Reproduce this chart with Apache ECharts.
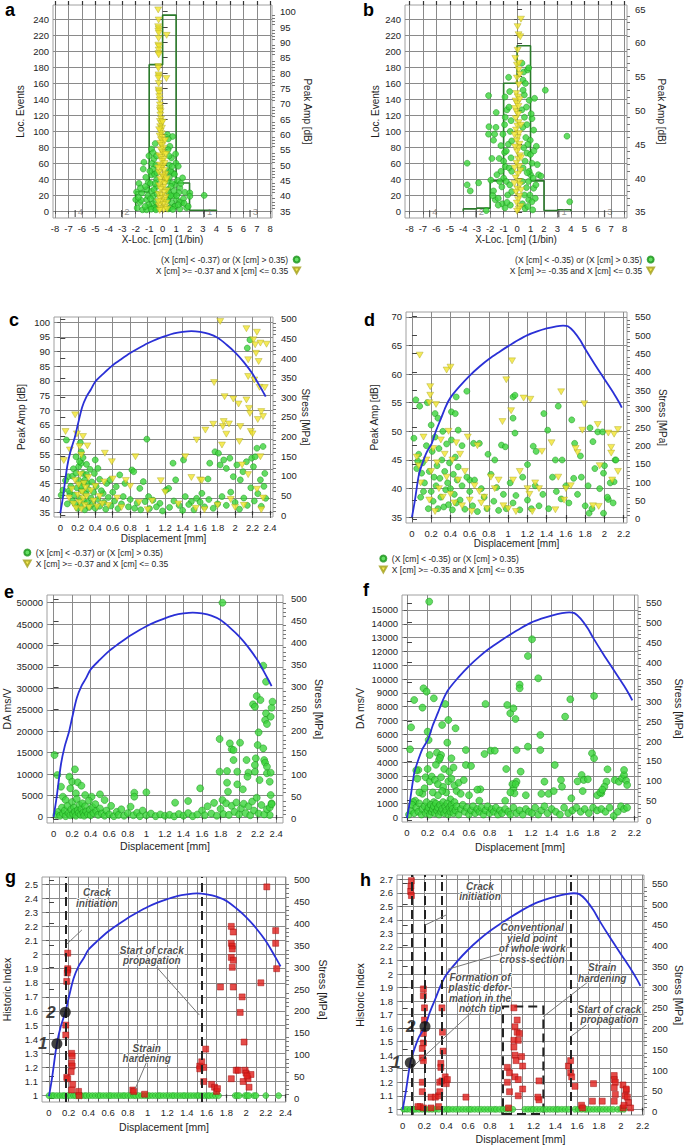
<!DOCTYPE html>
<html><head><meta charset="utf-8">
<script src="https://cdn.jsdelivr.net/npm/echarts@6/dist/echarts.min.js"></script>
<style>html,body{margin:0;padding:0;background:#fff}#c{width:685px;height:1147px}</style>
</head><body><div id="c"></div><script>
// ---------------- DATA ----------------
const G37 = '(X [cm] < -0.37) or (X [cm] > 0.35)';
const Y37 = 'X [cm] >= -0.37 and X [cm] <= 0.35';
const G35 = '(X [cm] < -0.35) or (X [cm] > 0.35)';
const Y35 = 'X [cm] >= -0.35 and X [cm] <= 0.35';

// tick labels
const locXTicks = [-8,-7,-6,-5,-4,-3,-2,-1,0,1,2,3,4,5,6,7,8];
const locEventTicks = [0,20,40,60,80,100,120,140,160,180,200,220,240];
const aAmpTicks = [35,40,45,50,55,60,65,70,75,80,85,90,95,100];
const bAmpTicks = [35,40,45,50,55,60,65];
const disp24Ticks = [0,0.2,0.4,0.6,0.8,1,1.2,1.4,1.6,1.8,2,2.2,2.4];
const disp22Ticks = [0,0.2,0.4,0.6,0.8,1,1.2,1.4,1.6,1.8,2,2.2];
const disp24Grid = [0,0.1,0.2,0.3,0.4,0.5,0.6,0.7,0.8,0.9,1,1.1,1.2,1.3,1.4,1.5,1.6,1.7,1.8,1.9,2,2.1,2.2,2.3,2.4];
const disp22Grid = [0,0.1,0.2,0.3,0.4,0.5,0.6,0.7,0.8,0.9,1,1.1,1.2,1.3,1.4,1.5,1.6,1.7,1.8,1.9,2,2.1,2.2];
const cAmpTicks = [35,40,45,50,55,60,65,70,75,80,85,90,95,100];
const dAmpTicks = [35,40,45,50,55,60,65,70];
const stress500Ticks = [0,50,100,150,200,250,300,350,400,450,500];
const stress550Ticks = [0,50,100,150,200,250,300,350,400,450,500,550];
const eDaTicks = [0,5000,10000,15000,20000,25000,30000,35000,40000,45000,50000];
const fDaTicks = [0,1000,2000,3000,4000,5000,6000,7000,8000,9000,10000,11000,12000,13000,14000,15000];
const gHiTicks = [1,1.1,1.2,1.3,1.4,1.5,1.6,1.7,1.8,1.9,2,2.1,2.2,2.3,2.4,2.5];
const hHiTicks = [1,1.1,1.2,1.3,1.4,1.5,1.6,1.7,1.8,1.9,2,2.1,2.2,2.3,2.4,2.5,2.6,2.7];

// histograms (1 cm bins)
const aBinEdges = [-2,-1,0,1,2,3,4];
const aBinCounts = [24,183,245,35,1,1];
const bBinEdges = [-4,-3,-2,-1,0,1,2,3,4];
const bBinCounts = [3,4,38,160,207,38,1,2];
const sensorX = [-6.5,-3.05,3.1,6.5];
const sensorLabels = ['4','2','1','3'];

// stress curves [displacement mm, stress MPa]
const stress1 = [[0,5],[0.03,45],[0.08,125],[0.12,165],[0.165,197],[0.2,230],[0.25,275],[0.3,302],[0.35,320],[0.4,340],[0.5,362],[0.6,382],[0.7,398],[0.8,413],[0.9,426],[1.0,438],[1.1,448],[1.2,456],[1.3,463],[1.4,467],[1.5,469],[1.6,467],[1.7,462],[1.8,452],[1.9,435],[2.0,415],[2.1,390],[2.2,360],[2.3,322],[2.35,302]];
const stress2 = [[0,5],[0.03,50],[0.07,118],[0.1,145],[0.15,180],[0.205,205],[0.25,240],[0.3,272],[0.35,305],[0.4,330],[0.5,362],[0.6,390],[0.7,414],[0.8,435],[0.9,453],[1.0,470],[1.1,486],[1.2,500],[1.3,510],[1.4,518],[1.5,524],[1.57,526],[1.62,524],[1.68,510],[1.75,485],[1.8,462],[1.9,420],[2.0,380],[2.1,340],[2.15,318],[2.18,303]];

// a: X-loc [cm], peak amp [dB]
const aGreen = [[-1.02,53],[-0.82,55.2],[-0.65,52],[-0.7,48.7],[-1.39,50.9],[-1.44,48.7],[-0.82,46.8],[-0.45,45.2],[-1.07,44.3],[-1.76,44],[-1.94,41.2],[-1.56,40.9],[-1.19,42],[-0.82,41.4],[-2.0,38.7],[-1.69,37.8],[-1.19,38.7],[-0.7,39.8],[-1.89,36],[-1.49,35.4],[-0.94,36.3],[-0.45,36],[-1.19,35.4],[-0.75,37.4],[-1.3,43],[-1.6,38.5],[-0.45,43],[-0.8,50.5],[-0.55,57],[-0.5,50],[-0.6,47],[-0.9,44],[-1.1,40],[-0.5,38],[-0.6,36],[-0.4,40.5],[-0.42,47.5],[-0.9,39],[-1.05,37],[-1.3,36.5],[-1.8,39.5],[-1.65,42.5],[-0.95,48],[-0.55,44],[-0.65,42],[-0.85,35.6],[-0.5,35.4],[-1.25,46],[-0.7,54],[-0.45,53],
 [0.36,59.9],[0.74,59.3],[0.42,58.5],[0.54,56.1],[0.96,53.6],[0.66,52.3],[0.99,50.6],[1.16,49.6],[1.48,45.8],[0.4,47.9],[0.79,47.4],[0.42,44.7],[0.91,43.6],[1.28,42.5],[1.65,41.1],[2.02,40.9],[2.02,39.8],[3.09,40.1],[0.54,39.8],[1.03,38.7],[1.41,37.6],[1.78,36],[0.42,35.7],[0.91,36.7],[1.28,35.7],[0.66,37.8],[0.4,42],[0.4,55],[0.5,50],[0.6,48],[0.45,41],[0.7,44],[0.8,40],[1.1,45],[1.2,41],[1.3,38],[0.9,36.5],[0.55,36],[0.5,46],[0.62,43],[0.85,41.5],[1.05,40],[1.15,37],[1.55,39],[0.75,35.5],[0.38,38.5],[0.48,53],[0.6,40],[1.35,44],[0.88,47],[1.6,37.5],[1.9,36.5],[0.7,49.5]];
const aYellow = [[-0.33,100.6],[-0.3,97.3],[-0.33,95.1],[-0.3,94.4],[-0.32,93.7],[-0.29,93],[-0.3,91.3],[-0.32,89.1],[-0.28,88.6],[-0.3,87.5],[-0.31,86.4],[-0.29,85.9],[-0.33,82.1],[-0.31,81.5],[-0.3,79.4],[-0.28,78.8],[-0.31,78.3],[-0.29,76.6],[-0.3,74.5],[-0.28,73.9],[-0.26,73.4],[-0.25,72.3],[-0.22,71.2],[-0.2,69.6],[-0.18,68.5],[-0.2,67.9],[-0.15,67.4],[-0.17,66.3],[0.3,92.3],[0.28,78.2],
 [-0.12,65],[-0.2,64.2],[-0.1,63.5],[-0.18,62.5],[-0.05,62],[-0.15,61],[-0.08,60.2],[-0.22,59.5],[-0.02,59],[-0.12,58.2],[0.02,57.5],[-0.18,57],[-0.06,56.3],[0.05,55.5],[-0.15,55],[-0.02,54.2],[0.08,53.6],[-0.25,53],[-0.1,52.4],[0.1,51.8],[-0.05,51.2],[0.15,50.5],[-0.2,50],[0.02,49.4],[-0.12,48.8],[0.12,48.2],[-0.28,47.6],[0.2,47],[-0.02,46.5],[0.08,46],[-0.18,45.4],[0.25,44.9],[-0.08,44.3],[0.15,43.8],[-0.25,43.2],[0.05,42.7],[-0.15,42.1],[0.3,41.6],[0.1,41],[-0.3,40.5],[-0.05,40],[0.22,39.5],[-0.2,39],[0.12,38.5],[-0.1,38],[0.28,37.6],[0.02,37.1],[-0.28,36.7],[0.18,36.2],[-0.12,35.8],[0.08,35.4],[-0.22,35.2],[0.32,35.6],[-0.32,38],[0.3,45.5],[-0.33,49],[0.25,53.5],[0.18,58],[-0.26,61.5],[0.0,64]];

// b
const bGreen = [[-3.71,42.2],[-3.71,39],[-3.48,38.1],[-2.86,39.3],[-2.12,52.2],[-2.09,47.6],[-2.12,46.5],[-1.57,47.5],[-1.67,46.5],[-1.75,45.6],[-1.87,42.9],[-1.55,49.7],[-1.33,42.9],[-1.95,39.7],[-1.75,38.1],[-1.62,36.8],[-2.29,35.2],[-0.63,54.9],[-0.75,50.1],[-0.88,49],[-0.93,47.9],[-0.51,46.9],[-0.93,43.8],[-0.88,41.7],[-1.13,38.7],[0.36,57],[0.49,55.7],[0.44,54.5],[0.78,56],[0.86,56.3],[0.54,52.3],[0.36,50.1],[1.3,51.8],[1.11,48.8],[0.73,47.9],[1.43,44.7],[1.23,47.1],[0.98,45.6],[0.73,43.7],[1.11,42.2],[1.6,40.5],[1.78,40.3],[1.23,38.5],[0.86,36.8],[1.16,35.3],[2.1,53],[3.71,46.2],[3.91,36.5],
 [-1.2,41],[-1.0,40],[-0.8,39.5],[-0.6,41.5],[-0.45,43],[-1.4,37],[-1.1,36.2],[-0.7,37.5],[-0.5,36],[-0.9,35.6],[-1.5,40.5],[-1.3,39.5],[-0.65,45],[-0.55,39],[-0.4,38],[-1.0,42.5],[-0.8,44],[-1.2,44.8],[-0.45,48.5],[-0.6,50.5],[-0.9,52],[-1.4,36],[-1.8,37.4],[-0.75,36.4],[-0.4,41],[-1.05,46.5],[-0.55,52.8],[-0.4,45.5],
 [0.4,36.2],[0.55,37.5],[0.7,38.6],[0.85,39.5],[1.0,40.5],[0.45,41.5],[0.6,42.5],[0.9,41],[1.2,40],[1.35,37],[0.5,44.5],[0.65,46],[0.8,45],[1.0,43.5],[0.4,39.5],[0.95,37.5],[1.1,36.5],[0.6,35.5],[0.75,40.8],[0.42,47.5],[0.55,49],[0.7,50.5],[0.9,51.5],[0.45,53],[1.25,44],[1.5,42],[1.4,39],[0.8,35.8],[1.05,49.5],[0.62,54]];
const bYellow = [[0.29,63.5],[0.04,62.4],[0.11,61.2],[0.24,60.9],[-0.13,57.7],[0.04,58.9],[-0.01,56.7],[0.16,57],[0.11,56],[-0.01,54.8],[0.11,53.8],[0.2,55.3],
 [-0.05,52.5],[0.05,52],[-0.12,51.4],[0.0,51],[-0.15,50.3],[-0.05,49.8],[0.08,49.4],[-0.1,48.8],[0.12,48.2],[0.02,47.7],[-0.08,47.1],[0.15,46.6],[0.05,46],[-0.02,45.5],[0.18,45],[0.1,44.4],[0.0,43.9],[0.2,43.3],[0.08,42.8],[-0.05,42.2],[0.15,41.7],[0.25,41.1],[0.05,40.6],[-0.1,40],[0.12,39.5],[0.22,39],[0.02,38.4],[-0.08,37.9],[0.18,37.3],[0.08,36.8],[-0.02,36.3],[0.25,35.8],[0.12,35.4],[0.0,35.1],[0.3,38.2],[-0.2,39.2],[0.3,43],[-0.15,44.6],[0.28,47.8],[-0.2,46.4],[0.1,50.6],[-0.18,41.5],[0.2,51.6]];

// c: displacement [mm], peak amp [dB]
const cGreen = [[0.01,41],[0.03,42.7],[0.07,59.8],[0.09,47.3],[0.11,41.6],[0.14,39.1],[0.18,54.1],[0.21,50.7],[0.23,58.9],[0.24,55.8],[0.24,51.9],[0.26,48.4],[0.28,46.2],[0.31,45],[0.34,49.8],[0.4,53],[0.39,48.4],[0.43,50.1],[0.45,46.4],[0.49,41.6],[0.53,45],[0.57,46.2],[0.64,43.9],[0.68,47.9],[0.74,45],[0.82,49.6],[0.84,49],[0.91,43.3],[0.95,45.6],[0.99,60.1],[1.01,40.5],[1.06,39.3],[1.14,38.2],[1.21,42.7],[1.24,43.3],[1.29,51.9],[1.32,46.2],[1.41,53],[1.43,40.5],[1.5,38.8],[1.56,39.9],[1.62,41.6],[1.69,46.5],[1.71,51.9],[1.77,55.8],[1.81,55.3],[1.83,51.3],[1.87,53],[1.9,50.1],[1.94,53.6],[1.98,47.3],[2.02,51.3],[2.06,46.2],[2.09,49],[2.13,52.4],[2.14,91.2],[2.17,94],[2.19,53.6],[2.21,50.7],[2.23,54.1],[2.25,57],[2.29,46.2],[2.32,57.6],[2.34,48.4],[2.35,39.9],
 [0.12,44],[0.14,47.5],[0.16,41],[0.17,38],[0.19,43.5],[0.2,36.5],[0.21,46],[0.22,40],[0.23,37.5],[0.25,42.5],[0.26,45],[0.27,39],[0.28,36],[0.29,41.5],[0.3,48],[0.31,38.5],[0.32,43],[0.33,36.8],[0.35,40],[0.36,45.5],[0.37,38],[0.38,42],[0.4,36.5],[0.41,44],[0.43,39.5],[0.45,37.2],[0.47,42.5],[0.5,38.5],[0.52,36.2],[0.55,40.2],[0.58,37.3],[0.6,42],[0.62,39],[0.66,36.4],[0.7,38],[0.72,40.5],[0.78,37],[0.8,39.5],[0.85,36.5],[0.88,38.3],[0.92,36],[0.97,38.8],[1.02,36.4],[1.1,37],[1.17,35.6],[1.25,36.8],[1.3,39],[1.36,37.5],[1.4,35.8],[1.47,37.8],[1.53,36],[1.6,38.6],[1.65,37],[1.7,39.5],[1.75,36.5],[1.8,38],[1.85,40.5],[1.9,37.5],[1.95,42],[2.0,38.5],[2.05,36.2],[2.1,40],[2.14,37.5],[2.18,43.5],[2.22,39],[2.26,41.5],[2.3,37.2],[2.33,44],[0.08,38],[0.1,42.5],[0.06,46],[0.15,50],[0.18,48.5],[0.22,52.5],[0.26,53.8],[0.3,51.5],[0.24,44]];
const cYellow = [[0.04,52.8],[0.06,62.7],[0.11,56.4],[0.17,68.4],[0.19,61.9],[0.22,57.6],[0.24,54.7],[0.26,61],[0.31,57.8],[0.51,55.3],[0.59,52.4],[0.86,54.1],[1.15,45.9],[1.43,54.1],[1.56,59.8],[1.6,46.2],[1.66,63.2],[1.76,79.4],[1.75,65.2],[1.83,100.3],[1.85,58.1],[1.86,64.4],[1.87,66.1],[1.88,74.6],[1.9,61.8],[1.93,65.3],[1.98,73.8],[2.04,72.1],[2.05,59.3],[2.06,64.4],[2.08,51.3],[2.13,97.8],[2.13,73.5],[2.15,87.2],[2.15,81.5],[2.16,70.6],[2.17,68.9],[2.18,62.7],[2.2,61.9],[2.21,94],[2.22,80.3],[2.23,92.3],[2.24,89.4],[2.25,96.6],[2.26,66.8],[2.27,86.6],[2.28,77.8],[2.29,54.1],[2.29,92.9],[2.34,77.7],[2.36,92.5],[2.3,69.5],[2.32,67.8],
 [0.1,40],[0.13,43],[0.15,38],[0.17,46],[0.18,36.5],[0.2,41],[0.21,44.5],[0.22,38.5],[0.23,48],[0.24,36.2],[0.25,42],[0.26,39.8],[0.27,45],[0.28,37.5],[0.29,43.5],[0.3,40.5],[0.32,47],[0.33,36.8],[0.35,42.5],[0.38,39],[0.4,44],[0.42,37],[0.45,40.5],[0.48,38],[0.5,45.5],[0.55,37.5],[0.6,46.5],[0.65,40],[0.7,36.8],[0.75,46],[0.8,44],[0.9,38.5],[1.0,36],[1.05,39],[1.2,42],[1.35,38],[1.5,47],[1.55,36.5],[1.62,46],[1.65,36],[1.8,37.5],[1.95,39.5],[2.0,36.8],[2.1,37.5],[2.15,48],[2.25,43],[2.32,40],[2.3,36]];

// d
const dGreen = [[0.02,48.8],[0.04,55.5],[0.08,54.4],[0.06,44.8],[0.1,42.7],[0.12,39.5],[0.16,55],[0.2,51.1],[0.24,53.1],[0.27,52.3],[0.57,57],[0.46,56],[0.41,53.4],[0.45,53.1],[0.48,50.2],[0.52,47.5],[0.64,47.9],[0.7,47.9],[0.6,41.5],[0.79,46],[0.86,45],[0.93,47.6],[0.97,47.3],[1.05,56],[1.07,56.3],[1.05,52.3],[1.07,49.7],[1.2,44.2],[1.26,47.4],[1.29,46.5],[1.37,53.1],[1.41,50.2],[1.49,45],[1.52,54.4],[1.56,45],[1.66,52],[1.69,47.9],[1.75,45.7],[1.85,50.6],[1.88,48.2],[1.93,49.9],[1.98,49.9],[1.99,42.7],[2.04,38.1],[2.11,45],[2.1,41.2],[1.99,35.7],[1.84,35.7],
 [0.05,43.5],[0.07,46],[0.09,38.5],[0.11,44.5],[0.13,41],[0.15,47.5],[0.17,36.5],[0.18,43],[0.2,39.5],[0.21,46.5],[0.22,37.8],[0.23,42],[0.24,49],[0.25,40.5],[0.26,44],[0.27,36.5],[0.28,47],[0.29,41.8],[0.3,38.5],[0.31,45],[0.32,50],[0.33,36.8],[0.34,43],[0.35,39.8],[0.36,47.8],[0.37,41],[0.38,37.2],[0.39,44.5],[0.4,40],[0.41,48.5],[0.42,36.3],[0.43,42.5],[0.44,39],[0.45,45.5],[0.46,37.5],[0.47,41.5],[0.48,43.8],[0.5,38],[0.52,40.5],[0.55,36.4],[0.57,42],[0.6,39.5],[0.63,37],[0.65,41.5],[0.68,36],[0.72,40],[0.75,38.5],[0.78,36.5],[0.82,42.5],[0.85,37.8],[0.88,40.2],[0.9,36.2],[0.95,39],[0.98,36.5],[1.02,41],[1.05,37.5],[1.08,38.8],[1.12,36.3],[1.15,42],[1.2,38],[1.24,36.5],[1.28,40.5],[1.32,37],[1.36,39],[1.42,36.5],[1.46,42],[1.5,39.5],[1.55,38.2],[1.6,40.5],[1.63,37.5],[1.68,41.8],[1.72,39],[1.76,42],[1.8,37],[1.83,40.5],[1.87,36.5],[1.9,43.5],[1.95,40],[2.0,44],[2.03,38.5],[2.06,41],[2.09,37.5],[2.12,45]];
const dYellow = [[0.08,63.3],[0.36,60.7],[0.4,61.2],[0.19,57.8],[0.19,56.3],[0.18,55],[0.25,54.7],[1.04,62.3],[0.98,59],[1.03,53.6],[0.94,51.7],[1.16,55.8],[1.23,55.6],[1.55,56.9],[1.79,54.8],[1.77,50.2],[1.72,46.3],[1.93,51.2],[2.04,49.7],[2.07,47.2],[2.07,46.2],[2.14,50.3],[2.14,43],[2.08,41.5],[1.94,36.9],[1.49,36.3],
 [0.05,45.5],[0.07,44],[0.09,41],[0.12,49],[0.15,45],[0.18,38],[0.2,43],[0.22,47],[0.24,36],[0.26,44.5],[0.28,40],[0.3,48.5],[0.32,38.5],[0.34,46],[0.36,42],[0.38,50],[0.4,39],[0.42,45],[0.44,37.5],[0.46,48],[0.48,41.5],[0.5,46],[0.52,37],[0.55,43],[0.58,49],[0.6,38],[0.62,36],[0.65,40.5],[0.68,47.5],[0.7,39.5],[0.72,37.5],[0.75,38.5],[0.78,36.5],[0.82,42],[0.86,40],[0.9,41.5],[0.95,37],[1.0,36.5],[1.05,41.5],[1.08,36],[1.12,43],[1.2,40],[1.22,39],[1.25,36],[1.28,41],[1.32,40],[1.35,46.5],[1.45,48],[1.52,42],[1.58,38],[1.6,40],[1.65,40.5],[1.7,47],[1.88,37],[1.95,44],[2.1,49.5]];

// e: displacement [mm], DA [ms/V]
const eGreen = [[0.01,14463],[0.04,9798],[0.08,7076],[0.1,4743],[0.13,3966],[0.17,9409],[0.2,8243],[0.23,11120],[0.26,8087],[0.3,7309],[0.18,6687],[0.24,5521],[0.34,5132],[0.41,4743],[0.5,5288],[0.55,3966],[0.87,5676],[0.87,4743],[1.0,5754],[1.31,3344],[1.45,3732],[1.58,6687],[1.79,18196],[1.79,10575],[1.82,3966],[1.87,10731],[1.87,8009],[1.88,5910],[1.9,17185],[1.92,15785],[1.94,15630],[1.94,13297],[1.98,10575],[2.01,17340],[1.98,7620],[2.04,6454],[2.08,13297],[2.1,10342],[2.09,9409],[2.15,26283],[2.19,28227],[2.17,25739],[2.21,19751],[2.2,16796],[2.18,13686],[2.17,12131],[2.17,10575],[2.22,8631],[2.23,27294],[2.26,35303],[2.29,31570],[2.29,24183],[2.28,22628],[2.3,21695],[2.26,16018],[2.27,13297],[2.28,12675],[2.3,11742],[2.3,10186],[2.35,25505],[2.34,23406],[2.36,26900],[2.34,10342],[2.33,8243],[2.34,5132],[2.35,3188],[2.33,467],[1.82,49998],
 [0.03,500],[0.05,1200],[0.07,300],[0.09,2200],[0.1,800],[0.12,1500],[0.13,200],[0.15,2600],[0.16,900],[0.18,400],[0.19,1800],[0.2,3500],[0.21,700],[0.22,2200],[0.23,1200],[0.24,300],[0.25,4200],[0.26,1600],[0.27,900],[0.28,2800],[0.29,500],[0.3,1900],[0.31,3200],[0.32,1000],[0.33,300],[0.34,2500],[0.35,1300],[0.37,600],[0.38,3800],[0.39,1700],[0.4,400],[0.42,2300],[0.43,900],[0.45,3000],[0.46,1400],[0.48,500],[0.5,2000],[0.52,800],[0.55,300],[0.57,1500],[0.6,600],[0.62,2600],[0.65,200],[0.68,1200],[0.7,500],[0.73,1800],[0.76,300],[0.8,900],[0.83,2400],[0.86,400],[0.9,1000],[0.93,200],[0.96,1500],[1.0,400],[1.05,800],[1.1,200],[1.15,600],[1.2,300],[1.25,500],[1.3,150],[1.35,700],[1.4,300],[1.45,900],[1.5,200],[1.55,600],[1.6,1500],[1.63,400],[1.66,2500],[1.7,800],[1.73,3300],[1.76,300],[1.8,1900],[1.83,700],[1.86,3200],[1.89,500],[1.92,2600],[1.95,1200],[1.97,3400],[2.0,600],[2.02,2000],[2.05,3100],[2.07,900],[2.1,2500],[2.12,400],[2.14,3600],[2.16,1500],[2.19,4500],[2.21,800],[2.24,2800],[2.27,600],[2.3,1800],[2.33,2200],[2.35,3000]];

// f
const fGreen = [[0.215,15606],[0.03,4921],[0.04,6512],[0.07,8490],[0.11,3425],[0.16,9334],[0.19,9093],[0.15,7936],[0.2,6199],[0.26,8611],[0.21,5596],[0.22,4510],[0.29,4679],[0.31,4148],[0.33,4510],[0.34,6681],[0.37,8201],[0.4,7043],[0.39,5403],[0.43,4269],[0.47,6440],[0.57,4872],[0.57,3787],[0.62,3714],[0.71,2026],[0.75,4583],[0.76,8201],[0.81,4824],[0.85,4824],[0.96,3497],[0.97,8129],[0.999,7525],[1.03,7887],[1.05,7115],[1.06,4872],[1.09,9600],[1.09,9334],[1.1,3304],[1.06,2581],[1.03,2098],[1.04,1737],[1.17,5113],[1.17,11674],[1.21,12880],[1.27,10058],[1.29,4872],[1.29,5958],[1.33,2581],[1.43,3787],[1.49,2701],[1.5,2219],[1.53,7284],[1.58,8539],[1.59,1375],[1.69,3063],[1.71,2701],[1.75,2750],[1.79,4631],[1.81,4269],[1.81,8780],[1.94,3473],[1.93,2581],[1.91,2219],[1.88,1737],[2.01,2701],[2.05,2581],[2.08,2822],[2.1,3063],[2.1,3425],[2.12,2653],[2.13,2340],
 [0.18,2900],[0.2,3500],[0.22,2600],[0.24,2950],[0.25,1800],[0.27,2700],[0.28,3800],[0.3,2400],[0.32,4300],[0.33,2900],[0.35,2200],[0.36,3500],[0.38,1800],[0.4,2600],[0.41,3300],[0.43,2800],[0.45,3600],[0.46,2300],[0.48,1900],[0.5,2500],[0.52,1700],[0.55,2700],[0.15,1700],[0.17,2100],[0.12,1800],[0.08,1200],[0.06,1100],[0.1,2800],[0.09,3400],[0.26,1100],[0.34,1900],[0.3,1600],[0.42,1300],[0.6,1600],[0.68,2000],[0.7,1200],[0.95,1200],[1.0,1800],[1.02,2400],[1.05,2400],[1.15,1600],[1.3,1700],[1.37,1700],[1.42,1900],[1.65,2600],[1.7,1900],[1.84,1600],[1.87,1800],[1.89,2000],
 [0.02,200],[0.04,500],[0.05,900],[0.07,300],[0.09,700],[0.11,400],[0.12,1000],[0.14,200],[0.15,600],[0.17,800],[0.18,300],[0.19,1100],[0.2,500],[0.21,700],[0.22,200],[0.23,900],[0.24,400],[0.25,600],[0.26,800],[0.27,300],[0.28,1000],[0.29,500],[0.3,700],[0.31,200],[0.32,900],[0.33,400],[0.34,600],[0.35,1100],[0.36,300],[0.37,800],[0.38,500],[0.39,1000],[0.4,200],[0.41,700],[0.42,400],[0.43,900],[0.44,600],[0.45,300],[0.46,1100],[0.47,500],[0.48,800],[0.5,200],[0.52,600],[0.54,900],[0.56,400],[0.58,700],[0.6,200],[0.62,500],[0.64,800],[0.66,300],[0.68,600],[0.7,400],[0.72,700],[0.74,200],[0.76,500],[0.78,800],[0.8,300],[0.82,600],[0.84,400],[0.86,700],[0.88,200],[0.9,500],[0.92,300],[0.95,600],[0.98,400],[1.0,200],[1.03,700],[1.06,300],[1.09,500],[1.12,200],[1.15,600],[1.18,400],[1.21,300],[1.24,700],[1.27,200],[1.3,500],[1.33,800],[1.36,300],[1.4,600],[1.44,400],[1.48,200],[1.52,700],[1.56,300],[1.6,500],[1.64,700],[1.68,400],[1.72,600],[1.76,300],[1.8,700],[1.84,500],[1.88,600],[1.92,400],[1.96,700],[2.0,100],[2.04,400],[2.07,800],[2.1,600],[2.13,700]];

// g: displacement [mm], historic index
const gRed = [[0.19,2.01],[0.19,1.90],[0.19,1.89],[0.185,1.87],[0.18,1.81],[0.17,1.50],[0.17,1.43],[0.18,1.13],[0.19,1.12],[0.23,1.30],[0.235,1.28],[0.23,1.23],[0.235,1.21],[0.225,1.17],[0.24,1.08],[0.23,1.04],[0.3,1.03],[0.305,1.0],[0.85,1.04],[0.86,1.03],[0.97,1.01],[1.53,1.21],[1.53,1.19],[1.55,1.24],[1.57,1.2],[1.59,1.33],[1.57,1.1],[1.65,1.08],[1.68,1.06],[1.70,1.03],[1.71,1.05],[1.74,1.77],[1.85,2.2],[1.87,2.16],[1.85,2.08],[1.86,2.06],[1.86,2.04],[1.85,1.98],[1.87,1.96],[1.86,1.91],[1.87,1.77],[1.85,1.12],[1.9,1.18],[1.92,1.18],[1.96,1.70],[1.94,1.59],[1.98,1.38],[1.99,1.18],[2.0,1.16],[1.97,1.1],[2.02,1.12],[2.05,1.15],[2.03,1.06],[2.01,1.14],[2.15,1.80],[2.21,2.48],[2.3,2.17],[2.3,2.08],[2.31,1.90]];
const gGreenX = [0,0.03,0.05,0.08,0.11,0.14,0.16,0.19,0.22,0.25,0.27,0.3,0.33,0.36,0.38,0.41,0.44,0.47,0.5,0.52,0.55,0.58,0.61,0.63,0.66,0.69,0.72,0.75,0.77,0.8,0.83,0.86,0.88,0.91,0.94,0.97,1.0,1.02,1.05,1.08,1.11,1.13,1.16,1.19,1.22,1.25,1.27,1.3,1.33,1.36,1.38,1.41,1.44,1.47,1.5,1.52,1.55,1.58,1.61,1.63,1.66,1.69,1.72,1.89,1.91,1.93,1.99,2.01,2.03,2.08,2.1,2.2,2.33];
const gGreenHI = 1;

// h
const hRed = [[0.08,2.69],[0.076,2.65],[0.073,2.61],[0.08,2.58],[0.19,1.89],[0.19,1.84],[0.2,1.75],[0.2,1.66],[0.19,1.56],[0.19,1.49],[0.18,1.45],[0.18,1.38],[0.19,1.36],[0.18,1.2],[0.18,1.13],[0.16,1.02],[0.19,1.01],[0.14,1.02],[0.26,1.01],[0.26,1.09],[0.3,1.09],[0.33,1.1],[0.34,1.13],[0.34,1.2],[0.35,1.34],[0.35,1.31],[0.36,1.21],[0.33,1.02],[0.36,1.75],[0.365,1.57],[0.37,1.43],[0.39,1.24],[0.4,1.19],[0.41,1.22],[0.58,1.09],
 [0.96,1.31],[0.96,1.2],[0.98,1.13],[0.98,1.27],[0.97,1.01],[1.02,1.75],[1.03,1.61],[1.02,1.51],[1.02,1.46],[1.03,1.40],[1.04,1.36],[1.03,1.24],[1.05,1.66],[1.05,1.57],[1.06,1.51],[1.07,1.56],[1.06,1.10],[1.06,1.22],[1.09,1.39],[1.1,1.32],[1.1,1.15],[1.25,1.21],[1.25,1.07],[1.24,1.09],
 [1.52,1.32],[1.54,1.36],[1.54,1.27],[1.55,1.24],[1.58,1.17],[1.64,1.03],[1.65,1.01],[1.75,1.19],[1.74,1.06],[1.83,1.06],[1.94,1.25],[1.94,1.22],[1.95,1.2],[1.94,1.16],[1.95,1.11],[1.94,1.06],[2.02,1.18],[2.05,1.14],[2.04,1.1],[2.06,1.09],[2.05,1.15],[2.02,1.01],[2.07,1.05],[2.09,1.01],[2.03,1.03]];
const hGreenX = [0.01,0.04,0.07,0.1,0.12,0.15,0.18,0.21,0.24,0.27,0.3,0.33,0.38,0.41,0.43,0.46,0.49,0.52,0.55,0.58,0.61,0.63,0.66,0.69,0.72,0.75,0.78,0.81,0.84,0.86,0.89,0.92,0.95,0.98,1.01,1.12,1.15,1.18,1.2,1.23,1.26,1.29,1.32,1.35,1.38,1.41,1.43,1.46,1.49,1.52,1.58,1.61,1.64,1.67,1.69,1.72,1.75,1.78,1.81,1.84,1.87,1.9,1.93,1.97,2.0,2.03];
const hGreenHI = 1;

// annotations (data coordinates)
const gKeyPts = [[0.08,125],[0.165,197]];
const hKeyPts = [[0.07,118],[0.205,205]];
const keyLabels = ['1','2'];
const gDashX = [0.165,1.55];
const hDashX = [0.08,0.205,0.365,1.54];
const hBox = [0.92,0.965,1.29,1.76];
const gNotes = [['Crack\ninitiation',0.486,2.40],['Start of crack\npropagation',1.043,1.995],['Strain\nhardening',0.992,1.30]];
const gLeaders = [[0.334,2.175,0.182,2.075],[1.094,1.91,1.525,1.572],[0.992,1.241,0.874,1.047]];
const hNotes = [['Crack\ninitiation',0.709,2.61],['Conventional\nyield point\nof whole work\ncross-section',1.187,2.227],['Formation of\nplastic defor-\nmation in the\nnotch tip',0.709,1.861],['Strain\nhardening',1.83,2.007],['Start of crack\npropagation',1.896,1.70]];
const hLeaders = [[0.398,2.436,0.206,2.362],[0.891,2.148,0.414,2.035],[0.648,1.729,0.079,1.303],[1.713,1.95,1.287,1.684],[1.683,1.623,1.54,1.537]];

// ---------------- BUILD ----------------
const FONT = '"Liberation Sans", Arial, Helvetica, sans-serif';
const GRIDC = '#8a8a8a';
const TXT = '#1e1e1e';
const GREEN = '#3cd43c', GREEN_B = '#159015';
const YEL = '#f2e52e', YEL_B = '#a39f1c';
const RED = '#e01f1c', RED_B = '#a50f0f';
const BLUE = '#2a30d6';
const TRI = 'path://M0,0L10,0L5,9Z';

const grids = [], xAxes = [], yAxes = [], series = [];

function subdivide(major, n) {
  const out = [];
  for (let i = 0; i < major.length - 1; i++) {
    for (let k = 1; k < n; k++) out.push(major[i] + (major[i+1]-major[i]) * k / n);
  }
  return out;
}
const plain = v => String(Math.round(v * 1000) / 1000);

function addPanel(c) {
  const gi = grids.length;
  grids.push({left:c.box[0], top:c.box[1], width:c.box[2], height:c.box[3], show:true, borderColor:'#a0a0a0', borderWidth:1, backgroundColor:'#fff'});
  const nameStyle = {fontSize:c.nameSize||10, color:TXT, fontFamily:FONT};
  const lab = {fontSize:9.5, color:TXT, fontFamily:FONT, hideOverlap:false, formatter:plain};
  xAxes.push({gridIndex:gi, type:'value', position:'bottom', min:c.x[0], max:c.x[1],
    name:c.names[0], nameLocation:'middle', nameGap:c.gaps[2], nameTextStyle:nameStyle,
    axisLine:{show:false},
    axisTick:{show:true, customValues:c.xGrid||c.xTicks, length:3, lineStyle:{color:'#555'}},
    axisLabel:Object.assign({customValues:c.xTicks, margin:5}, lab),
    splitLine:{show:true, lineStyle:{color:GRIDC, width:1}}});
  xAxes.push({gridIndex:gi, type:'value', position:'top', min:c.x[0], max:c.x[1],
    axisLine:{show:false}, axisTick:{show:true, customValues:c.xTicks, length:4, lineStyle:{color:'#333', width:1.2}},
    axisLabel:{show:false}, splitLine:{show:false}});
  yAxes.push({gridIndex:gi, type:'value', position:'left', min:c.yl[0], max:c.yl[1],
    name:c.names[1], nameLocation:'middle', nameGap:c.gaps[0], nameTextStyle:nameStyle,
    axisLine:{show:false},
    axisTick:{show:true, customValues:c.ylTicks, length:3, lineStyle:{color:'#555'}},
    axisLabel:Object.assign({customValues:c.ylTicks, margin:4}, lab),
    splitLine:{show:true, lineStyle:{color:GRIDC, width:1}}});
  yAxes.push({gridIndex:gi, type:'value', position:'right', offset:0, min:c.yr[0], max:c.yr[1],
    name:c.names[2], nameLocation:'middle', nameGap:c.gaps[1], nameRotate:-90, nameTextStyle:nameStyle,
    axisLine:{show:false},
    axisTick:{show:true, customValues:c.yrTicks, length:5, lineStyle:{color:'#444'}},
    axisLabel:Object.assign({customValues:c.yrTicks, margin:8}, lab),
    splitLine:{show:false}});
  yAxes.push({gridIndex:gi, type:'value', position:'right', offset:0, min:c.yr[0], max:c.yr[1],
    axisLine:{show:false}, axisTick:{show:true, customValues:subdivide(c.yrTicks,5), length:3, lineStyle:{color:'#777'}},
    axisLabel:{show:false}, splitLine:{show:false}});
  return {x:2*gi, yl:3*gi, yr:3*gi+1};
}

function histOutline(edges, counts) {
  const pts = [[edges[0],0]];
  for (let i = 0; i < counts.length; i++) { pts.push([edges[i],counts[i]]); pts.push([edges[i+1],counts[i]]); }
  pts.push([edges[edges.length-1],0]);
  return pts;
}
function greenSeries(name, ax, yIdx, data, size) {
  return {type:'scatter', name, xAxisIndex:ax.x, yAxisIndex:yIdx, data, symbol:'circle', symbolSize:size||6,
    itemStyle:{color:GREEN, borderColor:GREEN_B, borderWidth:0.6}, silent:true, z:3};
}
function yellowSeries(name, ax, yIdx, data) {
  return {type:'scatter', name, xAxisIndex:ax.x, yAxisIndex:yIdx, data, symbol:TRI, symbolSize:[7,6],
    itemStyle:{color:YEL, borderColor:YEL_B, borderWidth:0.5}, silent:true, z:4};
}
function stressSeries(ax, data) {
  return {type:'line', name:'Stress', xAxisIndex:ax.x, yAxisIndex:ax.yr, data, symbol:'none', smooth:0.3,
    lineStyle:{color:BLUE, width:1.8}, silent:true, z:6};
}
function sensorSeries(ax) {
  return {type:'scatter', name:'sensors', xAxisIndex:ax.x, yAxisIndex:ax.yl,
    data: sensorX.map((x,i)=>({value:[x,-3], label:{formatter:sensorLabels[i]}})),
    symbol:'rect', symbolSize:[1.2,7], itemStyle:{color:'#333'}, silent:true, z:2,
    label:{show:true, position:'right', distance:2, offset:[0,-2], fontSize:9.5, color:'#777', fontFamily:FONT}};
}
function annotate(ax, notes, leaders, dashX, keyPts, box) {
  const ml = dashX.map(x => ({xAxis:x, lineStyle:{type:[9,5], color:'#222', width:2}}));
  leaders.forEach(l => ml.push([{coord:[l[0],l[1]], lineStyle:{type:'solid', color:'#777', width:1}}, {coord:[l[2],l[3]]}]));
  const s = {type:'scatter', name:'notes', xAxisIndex:ax.x, yAxisIndex:ax.yl,
    data: notes.map(n => ({value:[n[1],n[2]], name:n[0]})), symbolSize:1, itemStyle:{color:'rgba(0,0,0,0)'}, silent:true, z:8,
    label:{show:true, position:'inside', formatter:'{b}', fontSize:10, lineHeight:10.5, fontWeight:'bold', fontStyle:'italic', color:'#222', fontFamily:FONT, align:'center', textBorderColor:'#fff', textBorderWidth:2},
    markLine:{silent:true, symbol:['none','none'], label:{show:false}, data:ml, z:7}};
  if (box) s.markArea = {silent:true, itemStyle:{color:'rgba(0,0,0,0)', borderColor:'#222', borderWidth:2, borderType:[9,5]},
    data:[[{coord:[box[0],box[1]]},{coord:[box[2],box[3]]}]]};
  series.push(s);
  series.push({type:'scatter', name:'key', xAxisIndex:ax.x, yAxisIndex:ax.yr,
    data: keyPts.map((p,i)=>({value:p, label:{formatter:keyLabels[i]}})), symbol:'circle', symbolSize:11,
    itemStyle:{color:'#111'}, silent:true, z:9,
    label:{show:true, position:'left', distance:4, fontSize:17, fontWeight:'bold', fontStyle:'italic', color:'#111', fontFamily:FONT}});
}

// panel a
const A = addPanel({box:[53,5,219,213], x:[-8.15,8.13], xTicks:locXTicks, yl:[-8.75,257.6], ylTicks:locEventTicks, yr:[32.72,102.2], yrTicks:aAmpTicks,
  names:['X-Loc. [cm] (1/bin)','Loc. Events','Peak Amp [dB]'], gaps:[28,30,16]});
series.push({type:'line', name:'hist a', xAxisIndex:A.x, yAxisIndex:A.yl, data:histOutline(aBinEdges,aBinCounts), symbol:'none', lineStyle:{color:'#2b7a2b', width:1.6}, silent:true, z:2});
series.push(sensorSeries(A));
series.push(greenSeries(G37, A, A.yr, aGreen));
series.push(yellowSeries(Y37, A, A.yr, aYellow));

// panel b
const B = addPanel({box:[405,5,222,213], x:[-8.33,8.17], xTicks:locXTicks, yl:[-8.4,257.9], ylTicks:locEventTicks, yr:[34.1,65.6], yrTicks:bAmpTicks,
  names:['X-Loc. [cm] (1/bin)','Loc. Events','Peak Amp [dB]'], gaps:[25,29,16]});
series.push({type:'line', name:'hist b', xAxisIndex:B.x, yAxisIndex:B.yl, data:histOutline(bBinEdges,bBinCounts), symbol:'none', lineStyle:{color:'#2b7a2b', width:1.6}, silent:true, z:2});
series.push(sensorSeries(B));
series.push(greenSeries(G35, B, B.yr, bGreen));
series.push(yellowSeries(Y35, B, B.yr, bYellow));

// panel c
const C = addPanel({box:[54,317,219,200], x:[-0.072,2.434], xTicks:disp24Ticks, yl:[33.53,101.8], ylTicks:cAmpTicks, yr:[-5.1,505], yrTicks:stress500Ticks,
  names:['Displacement [mm]','Peak Amp [dB]','Stress [MPa]'], gaps:[28,27,16]});
series.push(greenSeries(G37, C, C.yl, cGreen));
series.push(yellowSeries(Y37, C, C.yl, cYellow));
series.push(stressSeries(C, stress1));

// panel d
const D = addPanel({box:[406,312,221,211], x:[-0.062,2.234], xTicks:disp22Ticks, yl:[34.0,70.83], ylTicks:dAmpTicks, yr:[-10.9,562.8], yrTicks:stress550Ticks,
  names:['Displacement [mm]','Peak Amp [dB]','Stress [MPa]'], gaps:[27,30,15]});
series.push(greenSeries(G35, D, D.yl, dGreen));
series.push(yellowSeries(Y35, D, D.yl, dYellow));
series.push(stressSeries(D, stress2));

// panel e
const E = addPanel({box:[47,595,236,228], x:[-0.071,2.473], xTicks:disp24Ticks, yl:[-1400,51797], ylTicks:eDaTicks, yr:[-9.1,509], yrTicks:stress500Ticks,
  names:['Displacement [mm]','DA ms/V','Stress [MPa]'], gaps:[35,30,17], nameSize:10.5});
series.push(greenSeries('DA e', E, E.yl, eGreen, 7));
series.push(stressSeries(E, stress1));

// panel f
const F = addPanel({box:[402,595,237,227], x:[-0.048,2.235], xTicks:disp22Ticks, yl:[-340,16085], ylTicks:fDaTicks, yr:[-5,570], yrTicks:stress550Ticks,
  names:['Displacement [mm]','DA ms/V','Stress [MPa]'], gaps:[37,35,19], nameSize:10.5});
series.push(greenSeries('DA f', F, F.yl, fGreen, 7));
series.push(stressSeries(F, stress2));

// panel g
const Gp = addPanel({box:[42,877,244,225], x:[-0.071,2.405], xTicks:disp24Ticks, xGrid:disp24Grid, yl:[0.955,2.55], ylTicks:gHiTicks, yr:[-8.5,506.7], yrTicks:stress500Ticks,
  names:['Displacement [mm]','Historic Index','Stress [MPa]'], gaps:[30,31,19], nameSize:10.5});
series.push({type:'scatter', name:'HI1 g', xAxisIndex:Gp.x, yAxisIndex:Gp.yl, data:gGreenX.map(x=>[x,gGreenHI]), symbol:'circle', symbolSize:6,
  itemStyle:{color:'#45dc45', borderColor:'#1f9a1f', borderWidth:0.6}, silent:true, z:3});
series.push({type:'scatter', name:'HI g', xAxisIndex:Gp.x, yAxisIndex:Gp.yl, data:gRed, symbol:'rect', symbolSize:6,
  itemStyle:{color:RED, borderColor:RED_B, borderWidth:0.6}, silent:true, z:4});
series.push(stressSeries(Gp, stress1));
annotate(Gp, gNotes, gLeaders, gDashX, gKeyPts, null);

// panel h
const H = addPanel({box:[397,875,248,240], x:[-0.052,2.213], xTicks:disp22Ticks, xGrid:disp22Grid, yl:[0.958,2.732], ylTicks:hHiTicks, yr:[-8,570], yrTicks:stress550Ticks,
  names:['Displacement [mm]','Historic Index','Stress [MPa]'], gaps:[32,29,18], nameSize:10.5});
series.push({type:'scatter', name:'HI1 h', xAxisIndex:H.x, yAxisIndex:H.yl, data:hGreenX.map(x=>[x,hGreenHI]), symbol:'circle', symbolSize:6,
  itemStyle:{color:'#45dc45', borderColor:'#1f9a1f', borderWidth:0.6}, silent:true, z:3});
series.push({type:'scatter', name:'HI h', xAxisIndex:H.x, yAxisIndex:H.yl, data:hRed, symbol:'rect', symbolSize:6,
  itemStyle:{color:RED, borderColor:RED_B, borderWidth:0.6}, silent:true, z:4});
series.push(stressSeries(H, stress2));
annotate(H, hNotes, hLeaders, hDashX, hKeyPts, hBox);

const legText = {fontSize:8.5, color:TXT, fontFamily:FONT};
const legends = [
  {data:[G37,Y37], orient:'vertical', align:'right', right:379, top:250, itemGap:2, itemWidth:7, itemHeight:6, textStyle:legText, selectedMode:false},
  {data:[G35,Y35], orient:'vertical', align:'right', right:25, top:250, itemGap:2, itemWidth:7, itemHeight:6, textStyle:legText, selectedMode:false},
  {data:[G37,Y37], orient:'vertical', align:'left', left:18, top:543, itemGap:2, itemWidth:7, itemHeight:6, textStyle:legText, selectedMode:false},
  {data:[G35,Y35], orient:'vertical', align:'left', left:374, top:549, itemGap:2, itemWidth:7, itemHeight:6, textStyle:legText, selectedMode:false}
];

const letterFont = 'bold 18px ' + FONT;
const letters = [['a',5,19],['b',363,19],['c',9,329],['d',364,329],['e',4,601],['f',363,599],['g',5,886],['h',360,889]];
const graphic = letters.map(l => ({type:'text', x:l[1], y:l[2], style:{text:l[0], font:letterFont, fill:'#000', textVerticalAlign:'bottom', verticalAlign:'bottom'}}));

const chart = echarts.init(document.getElementById('c'), null, {renderer:'svg'});
chart.setOption({
  animation:false, backgroundColor:'#fff',
  textStyle:{fontFamily:FONT},
  grid:grids, xAxis:xAxes, yAxis:yAxes, series, legend:legends, graphic
});
</script></body></html>
